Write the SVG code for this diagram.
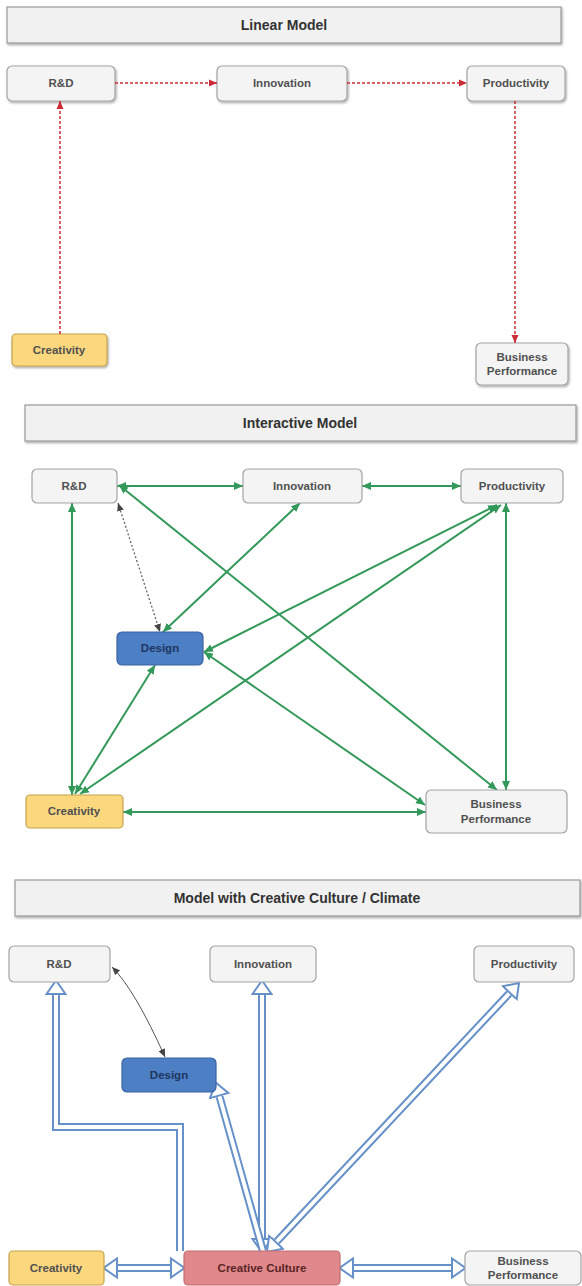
<svg xmlns="http://www.w3.org/2000/svg" width="582" height="1286" viewBox="0 0 582 1286">
<style>
text{font-family:"Liberation Sans",Arial,sans-serif;text-anchor:middle}
.title{font-size:14px;font-weight:bold;fill:#333}
.lbl{font-size:11.5px;font-weight:bold;fill:#505050}
.tbox{fill:#f1f1f1;stroke:#9a9a9a;stroke-width:1.2}
.gray{fill:#f4f4f4;stroke:#a3a3a3;stroke-width:1.2}
.yel{fill:#fbd77e;stroke:#c6a24c;stroke-width:1.2}
.blue{fill:#4d7fc4;stroke:#3a62a0;stroke-width:1.2}
.pink{fill:#e0898c;stroke:#c46c6e;stroke-width:1.2}
.red{fill:none;stroke:#cc2a36;stroke-width:1.5;stroke-dasharray:3 2}
.grn{fill:none;stroke:#33995a;stroke-width:2}
.dot{fill:none;stroke:#666;stroke-width:1.3;stroke-dasharray:2 2}
.thin{fill:none;stroke:#555;stroke-width:1}
.dout{fill:none;stroke:#6690c8;stroke-width:8;stroke-linejoin:miter}
.din{fill:none;stroke:#fff;stroke-width:4;stroke-linejoin:miter}
</style>
<defs>
<filter id="sh" x="-10%" y="-10%" width="130%" height="160%">
<feDropShadow dx="1" dy="1.5" stdDeviation="1" flood-color="#000" flood-opacity="0.35"/>
</filter>
<marker id="ra" markerUnits="userSpaceOnUse" markerWidth="9" markerHeight="8" refX="8" refY="4" orient="auto" viewBox="0 0 9 8">
<path d="M0,0.5 L8,4 L0,7.5 z" fill="#cc2a36"/>
</marker>
<marker id="ga" markerUnits="userSpaceOnUse" markerWidth="10" markerHeight="9" refX="9" refY="4.5" orient="auto-start-reverse" viewBox="0 0 10 9">
<path d="M0,0.5 L9,4.5 L0,8.5 z" fill="#33995a"/>
</marker>
<marker id="ka" markerUnits="userSpaceOnUse" markerWidth="9" markerHeight="8" refX="8" refY="4" orient="auto-start-reverse" viewBox="0 0 9 8">
<path d="M0,0.5 L8,4 L0,7.5 z" fill="#444"/>
</marker>
<marker id="ha" markerUnits="userSpaceOnUse" markerWidth="16" markerHeight="22" refX="0" refY="11" orient="auto-start-reverse" viewBox="0 0 16 22">
<path d="M1,1.5 L14.5,11 L1,20.5 z" fill="#fff" stroke="#6690c8" stroke-width="2" stroke-linejoin="miter"/>
</marker>
</defs>

<!-- Section 1: Linear Model -->
<g id="title1"><rect class="tbox" x="7" y="7" width="554" height="36" filter="url(#sh)"/><text class="title" x="284" y="30">Linear Model</text></g>
<g id="s1-rd"><rect class="gray" x="7" y="66" width="108" height="35" rx="5" filter="url(#sh)"/><text class="lbl" x="61" y="87">R&amp;D</text></g>
<g id="s1-innovation"><rect class="gray" x="217" y="66" width="130" height="35" rx="5" filter="url(#sh)"/><text class="lbl" x="282" y="87">Innovation</text></g>
<g id="s1-productivity"><rect class="gray" x="467" y="66" width="98" height="35" rx="5" filter="url(#sh)"/><text class="lbl" x="516" y="87">Productivity</text></g>
<g id="s1-creativity"><rect class="yel" x="12" y="334" width="95" height="32" rx="4" filter="url(#sh)"/><text class="lbl" x="59" y="354">Creativity</text></g>
<g id="s1-business"><rect class="gray" x="476" y="343" width="92" height="42" rx="5" filter="url(#sh)"/><text class="lbl" x="522" y="361">Business</text><text class="lbl" x="522" y="375">Performance</text></g>
<g id="s1-connectors">
<line class="red" x1="115" y1="83" x2="217" y2="83" marker-end="url(#ra)"/>
<line class="red" x1="347" y1="83" x2="467" y2="83" marker-end="url(#ra)"/>
<line class="red" x1="515" y1="101" x2="515" y2="343" marker-end="url(#ra)"/>
<line class="red" x1="60" y1="334" x2="60" y2="101" marker-end="url(#ra)"/>
</g>

<!-- Section 2: Interactive Model -->
<g id="title2"><rect class="tbox" x="25" y="405" width="551" height="36" filter="url(#sh)"/><text class="title" x="300" y="428">Interactive Model</text></g>
<g id="s2-connectors">
<line class="grn" x1="117" y1="486" x2="243" y2="486" marker-start="url(#ga)" marker-end="url(#ga)"/>
<line class="grn" x1="362" y1="486" x2="461" y2="486" marker-start="url(#ga)" marker-end="url(#ga)"/>
<line class="grn" x1="72" y1="503" x2="72" y2="795" marker-start="url(#ga)" marker-end="url(#ga)"/>
<line class="grn" x1="119" y1="485" x2="497" y2="790" marker-start="url(#ga)" marker-end="url(#ga)"/>
<line class="grn" x1="300" y1="503" x2="163" y2="632" marker-start="url(#ga)" marker-end="url(#ga)"/>
<line class="grn" x1="497" y1="505" x2="204" y2="652" marker-start="url(#ga)" marker-end="url(#ga)"/>
<line class="grn" x1="501" y1="505" x2="80" y2="794" marker-start="url(#ga)" marker-end="url(#ga)"/>
<line class="grn" x1="506" y1="503" x2="506" y2="790" marker-start="url(#ga)" marker-end="url(#ga)"/>
<line class="grn" x1="155" y1="665" x2="75" y2="794" marker-start="url(#ga)" marker-end="url(#ga)"/>
<line class="grn" x1="204" y1="652" x2="425" y2="805" marker-start="url(#ga)" marker-end="url(#ga)"/>
<line class="grn" x1="123" y1="812" x2="426" y2="812" marker-start="url(#ga)" marker-end="url(#ga)"/>
<line class="dot" x1="118" y1="503" x2="160" y2="632" marker-start="url(#ka)" marker-end="url(#ka)"/>
</g>
<g id="s2-rd"><rect class="gray" x="32" y="469" width="85" height="34" rx="5"/><text class="lbl" x="74" y="490">R&amp;D</text></g>
<g id="s2-innovation"><rect class="gray" x="243" y="469" width="119" height="34" rx="5"/><text class="lbl" x="302" y="490">Innovation</text></g>
<g id="s2-productivity"><rect class="gray" x="461" y="469" width="102" height="34" rx="5"/><text class="lbl" x="512" y="490">Productivity</text></g>
<g id="s2-design"><rect class="blue" x="117" y="632" width="86" height="33" rx="5"/><text class="lbl" x="160" y="652" style="fill:#1f3560">Design</text></g>
<g id="s2-creativity"><rect class="yel" x="26" y="795" width="97" height="33" rx="4"/><text class="lbl" x="74" y="815">Creativity</text></g>
<g id="s2-business"><rect class="gray" x="426" y="790" width="141" height="43" rx="5"/><text class="lbl" x="496" y="808">Business</text><text class="lbl" x="496" y="823">Performance</text></g>

<!-- Section 3: Model with Creative Culture / Climate -->
<g id="title3"><rect class="tbox" x="15" y="880" width="565" height="36" filter="url(#sh)"/><text class="title" x="297" y="903">Model with Creative Culture / Climate</text></g>
<g id="s3-connectors">
<path class="dout" d="M180,1251 V1127 H56 V995" marker-end="url(#ha)"/>
<path class="din" d="M180,1251 V1127 H56 V995"/>
<path class="dout" d="M262,1238 V995" marker-start="url(#ha)" marker-end="url(#ha)"/>
<path class="din" d="M262,1238 V995"/>
<path class="dout" d="M263,1251 L219.5,1096.5" marker-end="url(#ha)"/>
<path class="din" d="M263,1251 L219.5,1096.5"/>
<path class="dout" d="M276.8,1241.5 L509.1,993.5" marker-start="url(#ha)" marker-end="url(#ha)"/>
<path class="din" d="M276.8,1241.5 L509.1,993.5"/>
<path class="dout" d="M118,1268 H170" marker-start="url(#ha)" marker-end="url(#ha)"/>
<path class="din" d="M118,1268 H170"/>
<path class="dout" d="M354,1268 H451" marker-start="url(#ha)" marker-end="url(#ha)"/>
<path class="din" d="M354,1268 H451"/>
<path class="thin" d="M112,967 Q135,990 165,1057" marker-start="url(#ka)" marker-end="url(#ka)"/>
</g>
<g id="s3-rd"><rect class="gray" x="9" y="946" width="101" height="36" rx="5"/><text class="lbl" x="59" y="968">R&amp;D</text></g>
<g id="s3-innovation"><rect class="gray" x="210" y="946" width="106" height="36" rx="5"/><text class="lbl" x="263" y="968">Innovation</text></g>
<g id="s3-productivity"><rect class="gray" x="474" y="946" width="100" height="36" rx="5"/><text class="lbl" x="524" y="968">Productivity</text></g>
<g id="s3-design"><rect class="blue" x="122" y="1058" width="94" height="34" rx="5"/><text class="lbl" x="169" y="1079" style="fill:#1f3560">Design</text></g>
<g id="s3-creativity"><rect class="yel" x="9" y="1251" width="95" height="34" rx="4"/><text class="lbl" x="56" y="1272">Creativity</text></g>
<g id="s3-creative-culture"><rect class="pink" x="184" y="1251" width="156" height="34" rx="4"/><text class="lbl" x="262" y="1272" style="fill:#5a2424">Creative Culture</text></g>
<g id="s3-business"><rect class="gray" x="465" y="1251" width="116" height="34" rx="5"/><text class="lbl" x="523" y="1265">Business</text><text class="lbl" x="523" y="1279">Performance</text></g>
</svg>
